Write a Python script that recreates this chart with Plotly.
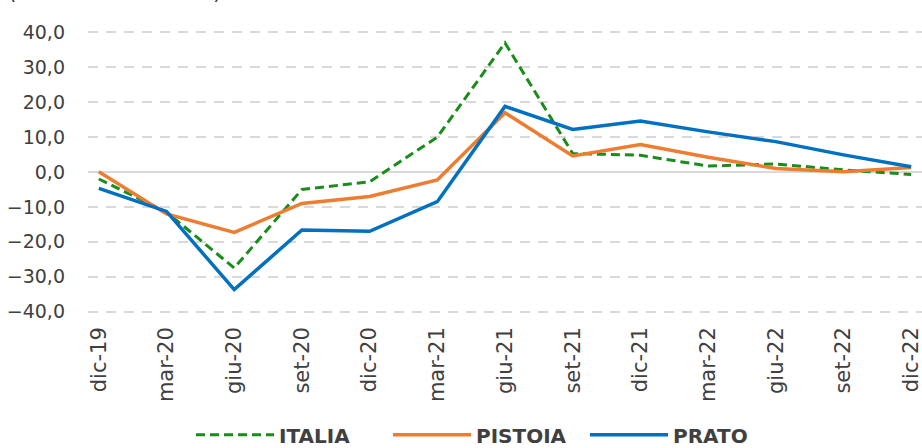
import plotly.graph_objects as go

periods = ["dic-19", "mar-20", "giu-20", "set-20", "dic-20", "mar-21", "giu-21",
           "set-21", "dic-21", "mar-22", "giu-22", "set-22", "dic-22"]
italia = [-2.0, -11.5, -27.5, -5.0, -2.8, 10.0, 37.0, 5.3, 4.8, 1.7, 2.3, 0.6, -0.7]
pistoia = [0.1, -12.0, -17.3, -9.0, -7.0, -2.3, 17.0, 4.6, 7.9, 4.2, 1.0, 0.1, 1.3]
prato = [-4.7, -11.3, -33.7, -16.6, -17.0, -8.5, 18.8, 12.2, 14.6, 11.5, 8.7, 4.9, 1.5]
y_ticks = [-40, -30, -20, -10, 0, 10, 20, 30, 40]

FONT = "DejaVu Sans"
TXT = "#404040"

fig = go.Figure()
fig.add_trace(go.Scatter(x=periods, y=italia, name="ITALIA", mode="lines",
                         line=dict(color="#1a8c1a", width=3, dash="9px,5px")))
fig.add_trace(go.Scatter(x=periods, y=pistoia, name="PISTOIA", mode="lines",
                         line=dict(color="#ED7D31", width=3.5)))
fig.add_trace(go.Scatter(x=periods, y=prato, name="PRATO", mode="lines",
                         line=dict(color="#0070C0", width=3.5)))

fig.update_layout(
    width=922, height=448,
    margin=dict(l=88, r=0, t=31, b=135, autoexpand=False),
    paper_bgcolor="white", plot_bgcolor="white",
    separators=",.",
    font=dict(family=FONT, color=TXT, size=17),
    showlegend=True,
    legend=dict(orientation="h", x=(191 - 88) / 834, xanchor="left", y=-0.432, yanchor="middle",
                font=dict(family=FONT, size=20, color=TXT, weight="bold"),
                itemwidth=78, entrywidth=104, traceorder="normal"),
    annotations=[dict(text="(var. % tendenziali)", xref="paper", yref="paper",
                      x=(6 - 88) / 834, xanchor="left", y=1.089, yanchor="bottom",
                      showarrow=False, font=dict(family=FONT, size=22, color=TXT))],
)
fig.update_xaxes(type="category", range=[-0.16, 12.16], tickangle=-90,
                 showgrid=False, showline=False, ticks="",
                 tickfont=dict(family=FONT, size=21, color=TXT),
                 ticklabelstandoff=9)
fig.update_yaxes(range=[-40.4, 40.4], tickvals=y_ticks, tickformat=".1f",
                 showgrid=True, gridcolor="#d9d9d9", gridwidth=1.5, griddash="10px,8px",
                 zeroline=True, zerolinecolor="#d9d9d9", zerolinewidth=1.5,
                 showline=False, ticks="",
                 tickfont=dict(family=FONT, size=19, color=TXT),
                 ticklabelstandoff=22)

fig.write_html("out.html", config={"displayModeBar": False},
               post_script="document.body.style.margin='0';")
